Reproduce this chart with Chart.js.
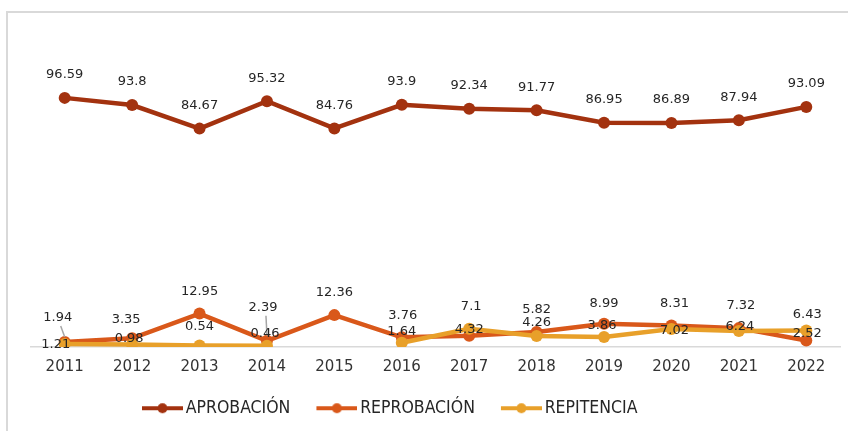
<!DOCTYPE html>
<html>
<head>
<meta charset="utf-8">
<script src="https://cdn.jsdelivr.net/npm/chart.js@4.4.1/dist/chart.umd.min.js"></script>
<style>
  html, body { margin: 0; padding: 0; background: #fff; overflow: hidden; }
  #wrap { position: relative; width: 848px; height: 431px; overflow: hidden; }
  #frame { position: absolute; left: 6px; top: 11px; width: 1000px; height: 600px; border: 2px solid #d9d9d9; }
  #c { position: absolute; left: 0; top: 0; }
</style>
</head>
<body>
<div id="wrap">
  <div id="frame"></div>
  <canvas id="c" width="848" height="431"></canvas>
</div>
<script>
const years = ['2011','2012','2013','2014','2015','2016','2017','2018','2019','2020','2021','2022'];
const aprobacion   = [96.59, 93.8, 84.67, 95.32, 84.76, 93.9, 92.34, 91.77, 86.95, 86.89, 87.94, 93.09];
const reprobacion  = [1.94, 3.35, 12.95, 2.39, 12.36, 3.76, 4.32, 5.82, 8.99, 8.31, 7.32, 2.52];
const repitencia   = [1.21, 0.98, 0.54, 0.46, null, 1.64, 7.1, 4.26, 3.86, 7.02, 6.24, 6.43];
const seriesNames  = ['APROBACIÓN', 'REPROBACIÓN', 'REPITENCIA'];
const colors       = ['#A3320F', '#D9581A', '#E8A02A'];

// label nudges (dx, dy from the point, in px) and leader-line flags
const labelNudge = [
  years.map(() => [0, -23]),
  [[-7,-24],[-6,-19],[0,-22],[-4,-33],[0,-22],[1,-22],[0,-6],[0,-22],[0,-20],[3,-22],[2,-22],[1,-7]],
  [[-9,1],[-3,-6],[0,-19],[-2,-12],[0,0],[0,-11],[2,-22],[0,-13],[-2,-11],[3,2],[1,-4],[1,-16]]
];
const leaders = [[], [0, 3], []];

function makeIcon(color) {
  const cv = document.createElement('canvas');
  cv.width = 52; cv.height = 14;
  const g = cv.getContext('2d');
  g.strokeStyle = color; g.lineWidth = 4;
  g.beginPath(); g.moveTo(11, 7); g.lineTo(52, 7); g.stroke();
  g.fillStyle = color;
  g.beginPath(); g.arc(31.5, 7, 5, 0, Math.PI * 2); g.fill();
  return cv;
}

const dataLabels = {
  id: 'dataLabels',
  afterDatasetsDraw(chart) {
    const ctx = chart.ctx;
    ctx.save();
    chart.data.datasets.forEach((ds, i) => {
      const meta = chart.getDatasetMeta(i);
      meta.data.forEach((el, j) => {
        const v = ds.data[j];
        if (v === null || v === undefined) return;
        const [dx, dy] = labelNudge[i][j];
        const lx = el.x + dx, ly = el.y + dy;
        if (leaders[i].includes(j)) {
          ctx.strokeStyle = '#a6a6a6';
          ctx.lineWidth = 1.5;
          ctx.beginPath();
          ctx.moveTo(lx + 3, ly + 8);
          ctx.lineTo(el.x, el.y - 5);
          ctx.stroke();
        }
        ctx.font = '13px "DejaVu Sans", Verdana, sans-serif';
        ctx.fillStyle = '#262626';
        ctx.textAlign = 'center';
        ctx.textBaseline = 'middle';
        ctx.fillText(String(v), lx, ly);
      });
    });
    ctx.restore();
  }
};

const legendShift = {
  id: 'legendShift',
  afterLayout(chart) {
    const l = chart.legend;
    if (l) { l.left += 85; l.right += 85; }
  }
};

const datasets = [aprobacion, reprobacion, repitencia].map((d, i) => ({
  label: seriesNames[i],
  data: d,
  borderColor: colors[i],
  backgroundColor: colors[i],
  pointBackgroundColor: colors[i],
  pointBorderColor: colors[i],
  borderWidth: 4.5,
  pointRadius: 6,
  pointBorderWidth: 0,
  tension: 0,
  spanGaps: false,
  order: 2 - i
}));

new Chart(document.getElementById('c'), {
  type: 'line',
  data: { labels: years, datasets },
  options: {
    responsive: false,
    animation: false,
    devicePixelRatio: 1,
    layout: { padding: { left: 31, right: 8, top: 37.5, bottom: 4 } },
    scales: {
      x: {
        type: 'category',
        offset: true,
        grid: { display: false, drawTicks: false },
        border: { display: true, color: '#d9d9d9', width: 1.5 },
        ticks: {
          font: { family: '"DejaVu Sans", Verdana, sans-serif', size: 15 },
          color: '#333333',
          padding: 11.5,
          maxRotation: 0,
          autoSkip: false
        },
        afterFit(scale) { scale.height -= 9.5; }
      },
      y: { display: false, min: 0, max: 120 }
    },
    plugins: {
      tooltip: { enabled: false },
      legend: {
        position: 'bottom',
        align: 'start',
        labels: {
          usePointStyle: true,
          pointStyleWidth: 40,
          padding: 21,
          color: '#262626',
          font: { family: '"Liberation Sans Narrow", "DejaVu Sans Condensed", sans-serif', size: 17.5 },
          generateLabels(chart) {
            return chart.data.datasets.map((ds, i) => ({
              text: ds.label,
              pointStyle: makeIcon(ds.borderColor),
              datasetIndex: i,
              fillStyle: ds.borderColor,
              strokeStyle: ds.borderColor,
              fontColor: '#262626',
              lineWidth: 0,
              hidden: false
            }));
          }
        }
      }
    }
  },
  plugins: [dataLabels, legendShift]
});
</script>
</body>
</html>
